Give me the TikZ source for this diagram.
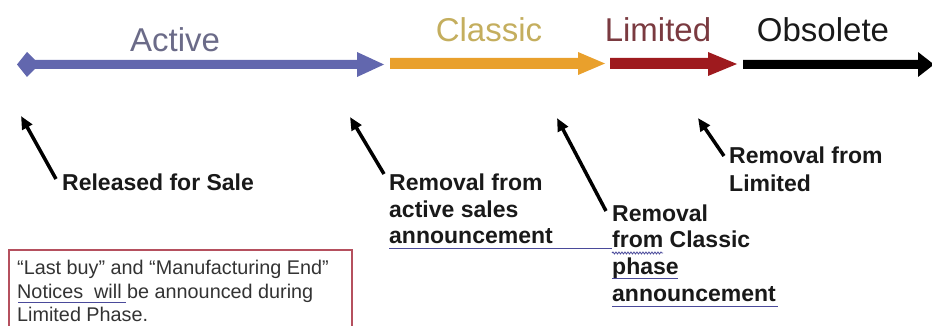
\documentclass[tikz,border=0pt]{standalone}
\usepackage{fontspec}
\setmainfont{Liberation Sans}
\usetikzlibrary{arrows.meta,decorations.pathmorphing}
\definecolor{activeblue}{HTML}{6267AE}
\definecolor{activetext}{HTML}{6B6B88}
\definecolor{classicorange}{HTML}{E9A02C}
\definecolor{classictext}{HTML}{C4AE5E}
\definecolor{limitedred}{HTML}{9E1A1E}
\definecolor{limitedtext}{HTML}{7A3A40}
\definecolor{ulblue}{HTML}{4A4A9A}
\definecolor{boxred}{HTML}{B5505E}
\begin{document}
\begin{tikzpicture}[x=1pt,y=-1pt,
  phase/.style={font=\fontsize{33}{38}\selectfont, anchor=base, inner sep=0},
  note/.style={font=\fontsize{23}{27}\selectfont\bfseries, anchor=base west, inner sep=0, text=black!90},
  pointer/.style={line width=3.5pt, -{Triangle[length=13pt,width=11pt]}},
  boxtext/.style={font=\fontsize{19.8}{23}\selectfont, anchor=base west, inner sep=0, text=black!80},
  uline/.style={ulblue, line width=1pt},
  wavy/.style={ulblue, line width=0.8pt, decorate, decoration={snake, amplitude=1pt, segment length=3pt}}]
\useasboundingbox (0,0) rectangle (932,326);
% phase arrows
\fill[activeblue] (17,64.5) -- (27,52) -- (35,60) -- (357,60) -- (357,52) -- (384,64.5) -- (357,77) -- (357,69) -- (35,69) -- (27,77) -- cycle;
\fill[classicorange] (390,58) -- (578,58) -- (578,52) -- (605,63.5) -- (578,75) -- (578,69) -- (390,69) -- cycle;
\fill[limitedred] (610,58) -- (708,58) -- (708,52) -- (737,64) -- (708,76) -- (708,69) -- (610,69) -- cycle;
\fill[black] (743,60) -- (918,60) -- (918,52) -- (934,64.5) -- (918,77) -- (918,69) -- (743,69) -- cycle;
% phase labels
\node[phase,text=activetext] (lactive) at (175,52) {Active};
\node[phase,text=classictext] (lclassic) at (489,42) {Classic};
\node[phase,text=limitedtext] (llimited) at (658,42) {Limited};
\node[phase,text=black!90] (lobsolete) at (823,42) {Obsolete};
% notes
\node[note] (rfs) at (62,190) {Released for Sale};
\node[note] (ras1) at (389,190) {Removal from};
\node[note] (ras2) at (389,217) {active sales};
\node[note] (ras3) at (389,243) {announcement};
\node[note] (rcl1) at (612,222) {Removal};
\node[note] (rcl2) at (612,247) {from Classic};
\node[note] (rcl3) at (612,274) {phase};
\node[note] (rcl4) at (612,301) {announcement};
\node[note] (rli1) at (729,164) {Removal from};
\node[note] (rli2) at (729,191) {Limited};
% pointers
\coordinate (t1) at (21,116); \coordinate (s1) at (56,179);
\coordinate (t2) at (350,117); \coordinate (s2) at (384,174);
\coordinate (t3) at (557,118); \coordinate (s3) at (606,211);
\coordinate (t4) at (698,118); \coordinate (s4) at (724,156);
\draw[pointer] (s1) -- (t1);
\draw[pointer] (s2) -- (t2);
\draw[pointer] (s3) -- (t3);
\draw[pointer] (s4) -- (t4);
% underlines
\draw[uline] (389,248) -- (612,248);
\draw[wavy] (612,253) -- (663,253);
\draw[uline] (612,278) -- (678,278);
\draw[uline] (612,306) -- (778,306);
% box
\draw[boxred, line width=2pt] (9,250) rectangle (352,340);
\node[boxtext] (b1) at (17,274) {“Last buy” and “Manufacturing End”};
\node[boxtext] (b2) at (17,298) {Notices\ \ will be announced during};
\node[boxtext] (b3) at (17,321) {Limited Phase.};
\draw[uline, line width=0.8pt] (18,302) -- (126,302);
\end{tikzpicture}
\end{document}
